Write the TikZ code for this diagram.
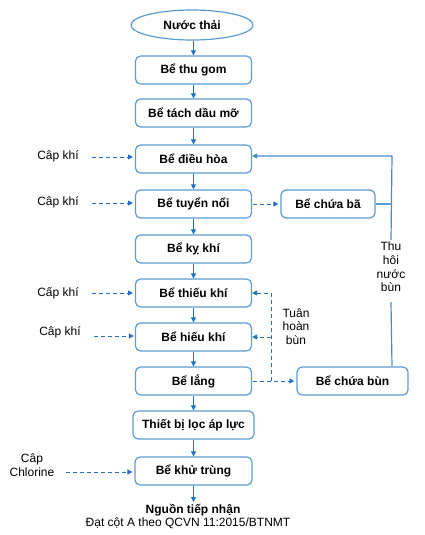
\documentclass[tikz,border=0pt]{standalone}
\usepackage{fontspec}
\setmainfont{Liberation Sans}
\usetikzlibrary{arrows.meta,shapes.geometric}
\definecolor{boxc}{RGB}{91,155,213}
\definecolor{arrc}{RGB}{36,113,190}
\definecolor{fbc}{RGB}{70,140,205}
\begin{document}
\begin{tikzpicture}[x=1pt,y=-1pt,
  box/.style={draw=boxc, line width=1.2pt, rounded corners=5pt, minimum width=116pt, minimum height=28pt, inner sep=0pt, fill=white, font=\fontsize{12}{13}\selectfont\bfseries},
  flow/.style={draw=arrc, line width=1pt, -{Triangle[length=5pt,width=5pt]}},
  dflow/.style={flow, dash pattern=on 4pt off 3pt},
  fbline/.style={draw=fbc, line width=1.2pt},
  lbl/.style={font=\fontsize{12}{13.7}\selectfont, align=center, inner sep=0pt}]
\useasboundingbox (0,0) rectangle (425,535);
% main column
\node[ellipse, draw=boxc, line width=1.2pt, minimum width=122pt, minimum height=30pt, inner sep=0pt, font=\fontsize{12}{13}\selectfont\bfseries] (nt) at (192,25) {Nước thải};
\node[box] (b1) at (193.5,70) {Bể thu gom};
\node[box] (b2) at (193.5,113) {Bể tách dầu mỡ};
\node[box] (b3) at (193.5,159) {Bể điều hòa};
\node[box] (b4) at (193.5,204) {Bể tuyển nổi};
\node[box, minimum width=94pt] (bb) at (328,204) {Bể chứa bã};
\node[box] (b5) at (193.5,249) {Bể kỵ khí};
\node[box] (b6) at (193.5,293) {Bể thiếu khí};
\node[box] (b7) at (193.5,337) {Bể hiếu khí};
\node[box] (b8) at (193.5,381) {Bể lắng};
\node[box, minimum width=111pt] (bu) at (352.5,381) {Bể chứa bùn};
\node[box, minimum width=121pt] (b9) at (193.5,425) {Thiết bị lọc áp lực};
\node[box, minimum width=117pt] (b10) at (193.5,471) {Bể khử trùng};
\node[font=\fontsize{12}{13}\selectfont\bfseries, inner sep=0pt] (nguon) at (193,510) {Nguồn tiếp nhận};
\node[lbl] (dat) at (188,523.5) {Đạt cột A theo QCVN 11:2015/BTNMT};
% main arrows
\draw[flow] (nt.south -| b1.north) -- (b1.north);
\draw[flow] (b1.south) -- (b2.north);
\draw[flow] (b2.south) -- (b3.north);
\draw[flow] (b3.south) -- (b4.north);
\draw[flow] (b4.south) -- (b5.north);
\draw[flow] (b5.south) -- (b6.north);
\draw[flow] (b6.south) -- (b7.north);
\draw[flow] (b7.south) -- (b8.north);
\draw[flow] (b8.south) -- (b9.north);
\draw[flow] (b9.south) -- (b10.north);
\coordinate (nend) at (193.5,502);
\draw[flow] (b10.south) -- (nend);
% air supply
\node[lbl] (c1) at (58,156) {Câp khí};
\node[lbl] (c2) at (58,202) {Câp khí};
\node[lbl] (c3) at (58,293) {Cấp khí};
\node[lbl] (c4) at (60,332) {Câp khí};
\node[lbl] (cl) at (32,465) {Câp\\Chlorine};
\coordinate (s1) at (92,157);
\coordinate (s2) at (92,203);
\coordinate (s3) at (92,293);
\coordinate (s4) at (94,336);
\coordinate (s5) at (66,472);
\draw[dflow, shorten >=2pt] (s1) -- (s1 -| b3.west);
\draw[dflow, shorten >=2pt] (s2) -- (s2 -| b4.west);
\draw[dflow, shorten >=2pt] (s3) -- (s3 -| b6.west);
\draw[dflow, shorten >=1pt] (s4) -- (s4 -| b7.west);
\draw[dflow, shorten >=2pt] (s5) -- (s5 -| b10.west);
% scum
\draw[dflow, shorten <=1pt, shorten >=2pt] (b4.east) -- (bb.west);
% sludge recirculation
\draw[dflow, shorten <=1pt, shorten >=2pt] (b8.east) -- (bu.west);
\coordinate (j) at (271,381);
\draw[dflow] (j) |- (b6.east);
\draw[dflow] (j |- b7.east) -- (b7.east);
\node[lbl] (tu) at (296,326.5) {Tuân\\hoàn\\bùn};
% sludge water return
\coordinate (fc) at (392,156);
\node[lbl] (th) at (391,267) {Thu\\hôi\\nước\\bùn};
\draw[fbline] (bu.north -| fc) -- ([yshift=-10pt]th.south);
\draw[fbline, -{Triangle[length=5pt,width=5pt]}] ([yshift=2pt]th.north) -- (fc) -- (fc -| b3.east);
\draw[draw=boxc, line width=2.5pt] (bb.east) -- (bb.east -| fc);
\end{tikzpicture}
\end{document}
